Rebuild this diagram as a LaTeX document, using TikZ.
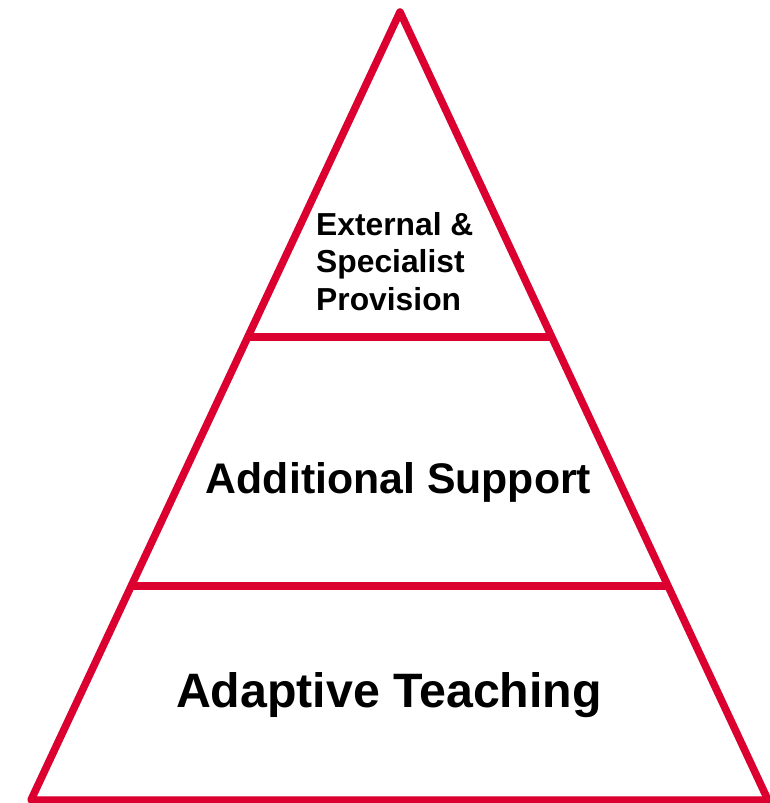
\documentclass[tikz,border=0pt]{standalone}
\usepackage{fontspec}
\setmainfont{Liberation Sans}
\usetikzlibrary{calc}
\definecolor{pyrred}{HTML}{DC0030}
\begin{document}
\begin{tikzpicture}[x=1pt,y=-1pt,
  edge/.style={draw=pyrred,line width=7.5pt,line join=round},
  shade/.style={draw=black!12,line width=7.5pt,line join=round},
  lbl/.style={font=\bfseries,inner sep=0pt,anchor=base}]
\useasboundingbox (0,0) rectangle (769,803);
\coordinate (apex) at (400,12);
\coordinate (bl) at (31,800);
\coordinate (br) at (768,800);
\coordinate (t1l) at ($(apex)!0.4124!(bl)$);
\coordinate (t1r) at ($(apex)!0.4124!(br)$);
\coordinate (t2l) at ($(apex)!0.7284!(bl)$);
\coordinate (t2r) at ($(apex)!0.7284!(br)$);
% soft shadows
\begin{scope}[shift={(1.5,3)}]
  \path[shade] (apex) -- (bl) -- (br) -- cycle;
  \path[shade] (t1l) -- (t1r);
  \path[shade] (t2l) -- (t2r);
\end{scope}
% pyramid
\path[edge] (apex) -- (bl) -- (br) -- cycle;
\path[edge] (t1l) -- (t1r);
\path[edge] (t2l) -- (t2r);
% labels
\node[lbl,anchor=base west,font=\fontsize{31.8}{37.5}\selectfont\bfseries,align=left] (ext) at (316,310)
  {External \&\\Specialist\\Provision};
\node[lbl,font=\fontsize{42.8}{50}\selectfont\bfseries] (add) at (398.5,493) {Additional Support};
\node[lbl,font=\fontsize{48.3}{56}\selectfont\bfseries] (adp) at (389,707) {Adaptive Teaching};
\end{tikzpicture}
\end{document}
